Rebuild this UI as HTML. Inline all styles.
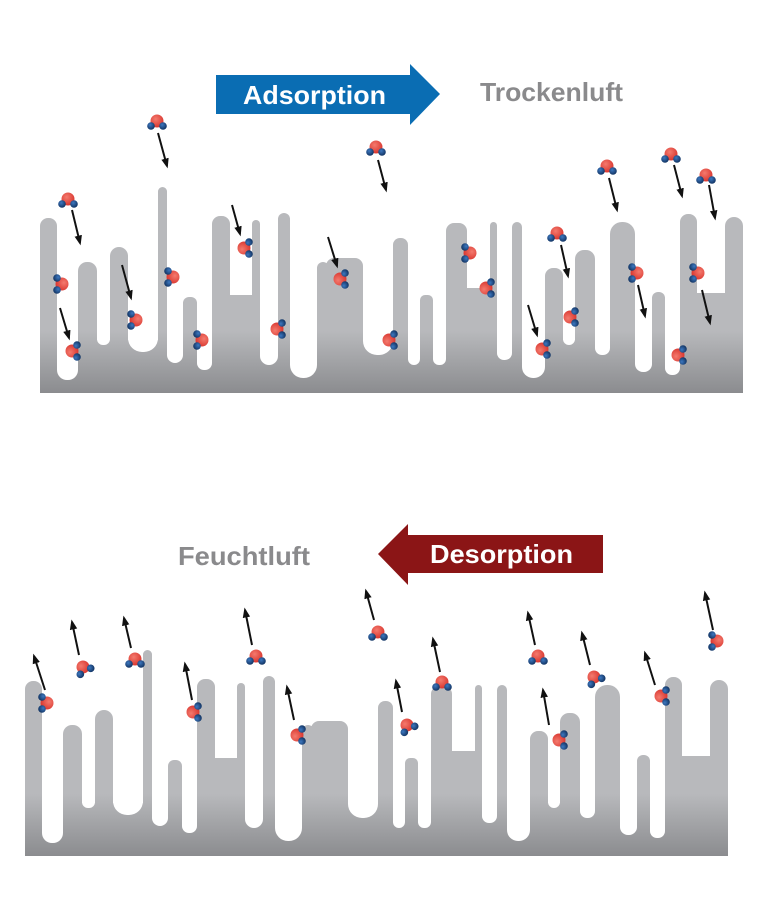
<!DOCTYPE html>
<html><head><meta charset="utf-8"><style>
html,body{margin:0;padding:0;background:#fff}
svg{display:block}
text{font-family:"Liberation Sans",sans-serif;font-weight:bold}
</style></head><body>
<svg width="779" height="902" viewBox="0 0 779 902" xmlns="http://www.w3.org/2000/svg">
<defs>
<linearGradient id="g" gradientUnits="userSpaceOnUse" x1="0" y1="186" x2="0" y2="393">
<stop offset="0" stop-color="#b8b9bc"/><stop offset="0.7" stop-color="#b8b9bc"/><stop offset="1" stop-color="#8b8c8f"/>
</linearGradient>
<radialGradient id="rg" cx="0.4" cy="0.35" r="0.7"><stop offset="0" stop-color="#f47a6e"/><stop offset="1" stop-color="#d7322b"/></radialGradient>
<radialGradient id="bg" cx="0.4" cy="0.35" r="0.7"><stop offset="0" stop-color="#3d78c0"/><stop offset="1" stop-color="#0f2f5c"/></radialGradient>
<marker id="ah" markerWidth="10" markerHeight="10" refX="6" refY="3" orient="auto" markerUnits="userSpaceOnUse" viewBox="0 0 8 6"><path d="M0,0 L8,3 L0,6 z" fill="#111"/></marker>
<g id="m"><circle cx="0" cy="0" r="6.5" fill="url(#rg)"/><circle cx="-6" cy="5" r="3.8" fill="url(#bg)"/><circle cx="6" cy="5" r="3.8" fill="url(#bg)"/></g>
<g id="surf" fill="url(#g)">
<rect x="40" y="340" width="703" height="53"/>
<rect x="40" y="218" width="17" height="175" rx="8"/>
<rect x="78" y="262" width="19" height="131" rx="9"/>
<rect x="110" y="247" width="18" height="146" rx="9"/>
<rect x="158" y="187" width="9" height="206" rx="4.5"/>
<rect x="183" y="297" width="14" height="96" rx="6"/>
<rect x="212" y="216" width="18" height="177" rx="8"/>
<rect x="212" y="295" width="48" height="98"/>
<rect x="252" y="220" width="8" height="173" rx="4"/>
<rect x="278" y="213" width="12" height="180" rx="6"/>
<rect x="317" y="262" width="12" height="131" rx="6"/>
<rect x="326" y="258" width="37" height="135" rx="8"/>
<rect x="393" y="238" width="15" height="155" rx="7"/>
<rect x="420" y="295" width="13" height="98" rx="5"/>
<rect x="446" y="223" width="21" height="170" rx="8"/>
<rect x="446" y="288" width="44" height="105"/>
<rect x="490" y="222" width="7" height="171" rx="3.5"/>
<rect x="512" y="222" width="10" height="171" rx="5"/>
<rect x="545" y="268" width="18" height="125" rx="8"/>
<rect x="575" y="250" width="20" height="143" rx="9"/>
<rect x="610" y="222" width="25" height="171" rx="12"/>
<rect x="652" y="292" width="13" height="101" rx="6"/>
<rect x="680" y="214" width="17" height="179" rx="8"/>
<rect x="680" y="293" width="63" height="100"/>
<rect x="725" y="217" width="18" height="176" rx="9"/>
<g fill="#fff">
<rect x="57" y="320" width="21" height="60" rx="10"/>
<rect x="97" y="320" width="13" height="25" rx="6"/>
<rect x="128" y="320" width="30" height="32" rx="14"/>
<rect x="167" y="320" width="16" height="43" rx="8"/>
<rect x="197" y="320" width="15" height="50" rx="7"/>
<rect x="260" y="320" width="18" height="45" rx="9"/>
<rect x="290" y="320" width="27" height="58" rx="13"/>
<rect x="363" y="320" width="30" height="35" rx="14"/>
<rect x="408" y="320" width="12" height="45" rx="6"/>
<rect x="433" y="320" width="13" height="45" rx="6"/>
<rect x="497" y="320" width="15" height="40" rx="7"/>
<rect x="522" y="320" width="23" height="58" rx="11"/>
<rect x="563" y="320" width="12" height="25" rx="6"/>
<rect x="595" y="320" width="15" height="35" rx="7"/>
<rect x="635" y="320" width="17" height="52" rx="8"/>
<rect x="665" y="320" width="15" height="55" rx="7"/>
</g>
</g>
</defs>

<path d="M216,75 H410 V64 L440,94 L410,125 V114 H216 Z" fill="#0a6db3"/>
<text x="243" y="104" font-size="26" fill="#fff" textLength="143" lengthAdjust="spacingAndGlyphs">Adsorption</text>
<text x="480" y="101" font-size="26" fill="#8a8a8c" textLength="143" lengthAdjust="spacingAndGlyphs">Trockenluft</text>

<use href="#surf"/>

<g stroke="#111" stroke-width="2" marker-end="url(#ah)">
<line x1="158" y1="133" x2="167" y2="166"/>
<line x1="72" y1="210" x2="80" y2="243"/>
<line x1="60" y1="308" x2="69" y2="338"/>
<line x1="122" y1="265" x2="131" y2="298"/>
<line x1="232" y1="205" x2="240" y2="234"/>
<line x1="328" y1="237" x2="337" y2="266"/>
<line x1="378" y1="160" x2="386" y2="190"/>
<line x1="561" y1="245" x2="568" y2="276"/>
<line x1="528" y1="305" x2="537" y2="335"/>
<line x1="609" y1="178" x2="617" y2="210"/>
<line x1="674" y1="165" x2="682" y2="196"/>
<line x1="709" y1="185" x2="715" y2="218"/>
<line x1="638" y1="285" x2="645" y2="316"/>
<line x1="702" y1="290" x2="710" y2="323"/>
</g>
<use href="#m" transform="translate(157,121)"/>
<use href="#m" transform="translate(68,199)"/>
<use href="#m" transform="translate(62,284) rotate(90)"/>
<use href="#m" transform="translate(72,351) rotate(-90)"/>
<use href="#m" transform="translate(136,320) rotate(90)"/>
<use href="#m" transform="translate(173,277) rotate(90)"/>
<use href="#m" transform="translate(202,340) rotate(90)"/>
<use href="#m" transform="translate(244,248) rotate(-90)"/>
<use href="#m" transform="translate(277,329) rotate(-90)"/>
<use href="#m" transform="translate(340,279) rotate(-90)"/>
<use href="#m" transform="translate(389,340) rotate(-90)"/>
<use href="#m" transform="translate(376,147)"/>
<use href="#m" transform="translate(470,253) rotate(90)"/>
<use href="#m" transform="translate(486,288) rotate(-90)"/>
<use href="#m" transform="translate(557,233)"/>
<use href="#m" transform="translate(542,349) rotate(-90)"/>
<use href="#m" transform="translate(570,317) rotate(-90)"/>
<use href="#m" transform="translate(607,166)"/>
<use href="#m" transform="translate(671,154)"/>
<use href="#m" transform="translate(706,175)"/>
<use href="#m" transform="translate(637,273) rotate(90)"/>
<use href="#m" transform="translate(698,273) rotate(90)"/>
<use href="#m" transform="translate(678,355) rotate(-90)"/>

<path d="M603,535 H408 V524 L378,554 L408,585 V573 H603 Z" fill="#8b1516"/>
<text x="430" y="563" font-size="26" fill="#fff" textLength="143" lengthAdjust="spacingAndGlyphs">Desorption</text>
<text x="178" y="565" font-size="26" fill="#8a8a8c" textLength="132" lengthAdjust="spacingAndGlyphs">Feuchtluft</text>

<use href="#surf" transform="translate(-15,463)"/>

<g stroke="#111" stroke-width="2" marker-end="url(#ah)">
<line x1="45" y1="690" x2="34" y2="656"/>
<line x1="79" y1="655" x2="72" y2="622"/>
<line x1="131" y1="648" x2="124" y2="618"/>
<line x1="192" y1="700" x2="185" y2="664"/>
<line x1="252" y1="645" x2="245" y2="610"/>
<line x1="294" y1="720" x2="287" y2="687"/>
<line x1="374" y1="620" x2="366" y2="591"/>
<line x1="402" y1="712" x2="396" y2="681"/>
<line x1="440" y1="672" x2="433" y2="639"/>
<line x1="535" y1="645" x2="528" y2="613"/>
<line x1="549" y1="725" x2="543" y2="690"/>
<line x1="590" y1="665" x2="582" y2="633"/>
<line x1="655" y1="685" x2="645" y2="653"/>
<line x1="713" y1="630" x2="705" y2="593"/>
</g>
<use href="#m" transform="translate(47,703) rotate(90)"/>
<use href="#m" transform="translate(83,667) rotate(-30)"/>
<use href="#m" transform="translate(135,659)"/>
<use href="#m" transform="translate(193,712) rotate(-90)"/>
<use href="#m" transform="translate(256,656)"/>
<use href="#m" transform="translate(297,735) rotate(-90)"/>
<use href="#m" transform="translate(378,632)"/>
<use href="#m" transform="translate(407,725) rotate(-30)"/>
<use href="#m" transform="translate(442,682)"/>
<use href="#m" transform="translate(538,656)"/>
<use href="#m" transform="translate(559,740) rotate(-90)"/>
<use href="#m" transform="translate(594,677) rotate(-30)"/>
<use href="#m" transform="translate(661,696) rotate(-90)"/>
<use href="#m" transform="translate(717,641) rotate(90)"/>
</svg>
</body></html>
